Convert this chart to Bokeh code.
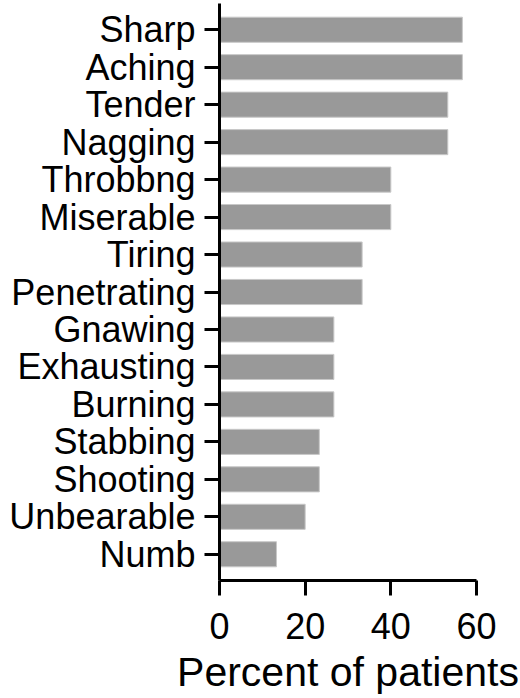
from bokeh.plotting import figure
from bokeh.models import FactorRange, Range1d, FixedTicker
from bokeh.embed import file_html
from bokeh.resources import INLINE

categories = ["Sharp", "Aching", "Tender", "Nagging", "Throbbng", "Miserable", "Tiring",
              "Penetrating", "Gnawing", "Exhausting", "Burning", "Stabbing", "Shooting",
              "Unbearable", "Numb"]
percent = [56.7, 56.7, 53.3, 53.3, 40.0, 40.0, 33.3, 33.3, 26.7, 26.7, 26.7, 23.3, 23.3, 20.0, 13.3]
x_ticks = [0, 20, 40, 60]
x_title = "Percent of patients"

FONT = "Liberation Sans"

p = figure(width=520, height=698, output_backend="svg", toolbar_location=None,
           y_range=FactorRange(factors=list(reversed(categories)), range_padding=0.2,
                               range_padding_units="absolute"),
           x_range=Range1d(0, 60),
           min_border_left=219, min_border_right=44, min_border_top=3, min_border_bottom=118)

p.hbar(y=categories, right=percent, left=0, height=0.67,
       fill_color="#999999", line_color="#c8c8c8", line_width=1)

p.outline_line_color = None
p.xgrid.grid_line_color = None
p.ygrid.grid_line_color = None
p.background_fill_color = "white"
p.border_fill_color = "white"

xa = p.xaxis[0]
xa.ticker = FixedTicker(ticks=x_ticks)
xa.axis_line_width = 3
xa.axis_line_color = "black"
xa.major_tick_line_width = 3
xa.major_tick_out = 15
xa.major_tick_in = 0
xa.minor_tick_line_color = None
xa.major_label_text_font = FONT
xa.major_label_text_font_size = "36px"
xa.major_label_text_color = "black"
xa.major_label_standoff = 17
xa.axis_label = x_title
xa.axis_label_text_font = FONT
xa.axis_label_text_font_size = "41px"
xa.axis_label_text_font_style = "normal"
xa.axis_label_text_color = "black"
xa.axis_label_standoff = 7

ya = p.yaxis[0]
ya.axis_line_width = 3
ya.axis_line_color = "black"
ya.major_tick_line_width = 3
ya.major_tick_out = 15
ya.major_tick_in = 0
ya.minor_tick_line_color = None
ya.major_label_text_font = FONT
ya.major_label_text_font_size = "36px"
ya.major_label_text_color = "black"
ya.major_label_standoff = 9

open("out.html", "w").write(file_html(p, INLINE))
